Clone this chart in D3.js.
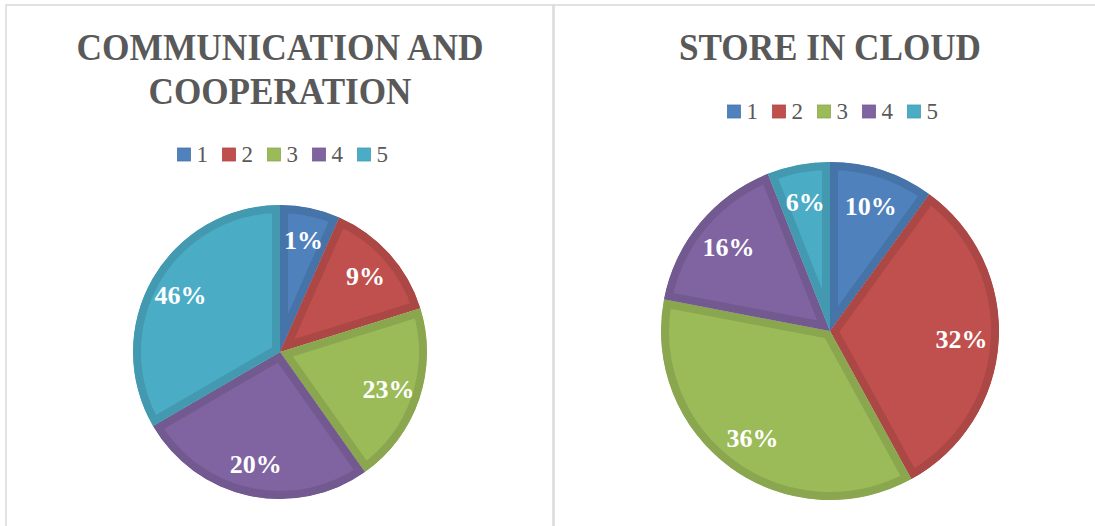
<!DOCTYPE html>
<html>
<head>
<meta charset="utf-8">
<script src="https://cdn.jsdelivr.net/npm/d3@7"></script>
<style>
  body { margin: 0; background: #fff; }
  svg { display: block; }
</style>
</head>
<body>
<div id="chart"></div>
<script>
// categories shared by both pies
const categories = ['1', '2', '3', '4', '5']
const colors = ['#4F81BD', '#C0504D', '#9BBB59', '#8064A2', '#4BACC6']

// left pie: slice sizes as drawn, printed labels as shown
const commValues = [6.6, 13.6, 20.0, 26.4, 33.4]
const commLabels = ['1%', '9%', '23%', '20%', '46%']

// right pie
const cloudValues = [10, 32, 36, 16, 6]
const cloudLabels = ['10%', '32%', '36%', '16%', '6%']

const width = 1095, height = 526

const svg = d3.select('#chart').append('svg')
    .attr('width', width)
    .attr('height', height)

const defs = svg.append('defs')

// chart frames
svg.append('rect')
    .attr('x', 6).attr('y', 5)
    .attr('width', 547).attr('height', 540)
    .attr('fill', 'none').attr('stroke', '#d9d9d9').attr('stroke-width', 1.5)
svg.append('rect')
    .attr('x', 554).attr('y', 5)
    .attr('width', 560).attr('height', 540)
    .attr('fill', 'none').attr('stroke', '#d9d9d9').attr('stroke-width', 1.5)

function drawPie(opts) {
    const { id, title, titleWidths, values, labels, cx, cy, r, titleY, legendY } = opts
    const g = svg.append('g')

    // title (Cambria-like: taller and narrower than Liberation)
    g.append('text')
        .attr('text-anchor', 'middle')
        .attr('font-family', '"Liberation Serif", serif')
        .attr('font-weight', 'bold')
        .attr('font-size', 38)
        .attr('fill', '#595959')
        .selectAll('tspan')
        .data(title)
        .enter().append('tspan')
        .attr('x', cx)
        .attr('y', (d, i) => titleY + i * 44)
        .attr('textLength', (d, i) => titleWidths[i])
        .attr('lengthAdjust', 'spacingAndGlyphs')
        .text(d => d)

    // legend
    const pitch = 45
    const legendX = cx + 3 - (pitch * 4 + 31) / 2
    const item = g.selectAll('.legend')
        .data(categories)
        .enter().append('g')
        .attr('class', 'legend')
        .attr('transform', (d, i) => `translate(${legendX + i * pitch},${legendY})`)
    item.append('rect')
        .attr('x', 0).attr('y', -13)
        .attr('width', 13).attr('height', 13)
        .attr('fill', (d, i) => colors[i])
        .attr('stroke', (d, i) => d3.color(colors[i]).darker(0.3))
        .attr('stroke-width', 0.8)
    item.append('text')
        .attr('x', 19).attr('y', 1)
        .attr('font-family', '"Liberation Serif", serif')
        .attr('font-size', 23)
        .attr('fill', '#595959')
        .text(d => d)

    // slices
    const pie = d3.pie().sort(null).value(d => d)
    const arcs = pie(values)
    const arc = d3.arc().innerRadius(0).outerRadius(r)
    const labelArc = d3.arc().innerRadius(r * 0.78).outerRadius(r * 0.78)

    const pg = g.append('g').attr('transform', `translate(${cx},${cy})`)

    arcs.forEach((a, i) => {
        defs.append('clipPath')
            .attr('id', `${id}-clip-${i}`)
            .append('path')
            .attr('d', arc(a))
    })

    pg.selectAll('.slice')
        .data(arcs)
        .enter().append('path')
        .attr('class', 'slice')
        .attr('d', arc)
        .attr('fill', (d, i) => colors[i])
        .attr('stroke', (d, i) => d3.color(colors[i]).darker(0.33))
        .attr('stroke-width', 16)
        .attr('stroke-linejoin', 'miter')
        .attr('clip-path', (d, i) => `url(#${id}-clip-${i})`)

    pg.selectAll('.label')
        .data(arcs)
        .enter().append('text')
        .attr('class', 'label')
        .attr('transform', d => `translate(${labelArc.centroid(d)})`)
        .attr('text-anchor', 'middle')
        .attr('dy', '0.35em')
        .attr('font-family', '"Liberation Serif", serif')
        .attr('font-weight', 'bold')
        .attr('font-size', 26)
        .attr('fill', '#fff')
        .text((d, i) => labels[i])
}

drawPie({
    id: 'comm',
    title: ['COMMUNICATION AND', 'COOPERATION'],
    titleWidths: [407, 263],
    values: commValues,
    labels: commLabels,
    cx: 280, cy: 352, r: 147,
    titleY: 60, legendY: 161
})

drawPie({
    id: 'cloud',
    title: ['STORE IN CLOUD'],
    titleWidths: [302],
    values: cloudValues,
    labels: cloudLabels,
    cx: 830, cy: 331, r: 169,
    titleY: 60, legendY: 118
})
</script>
</body>
</html>
